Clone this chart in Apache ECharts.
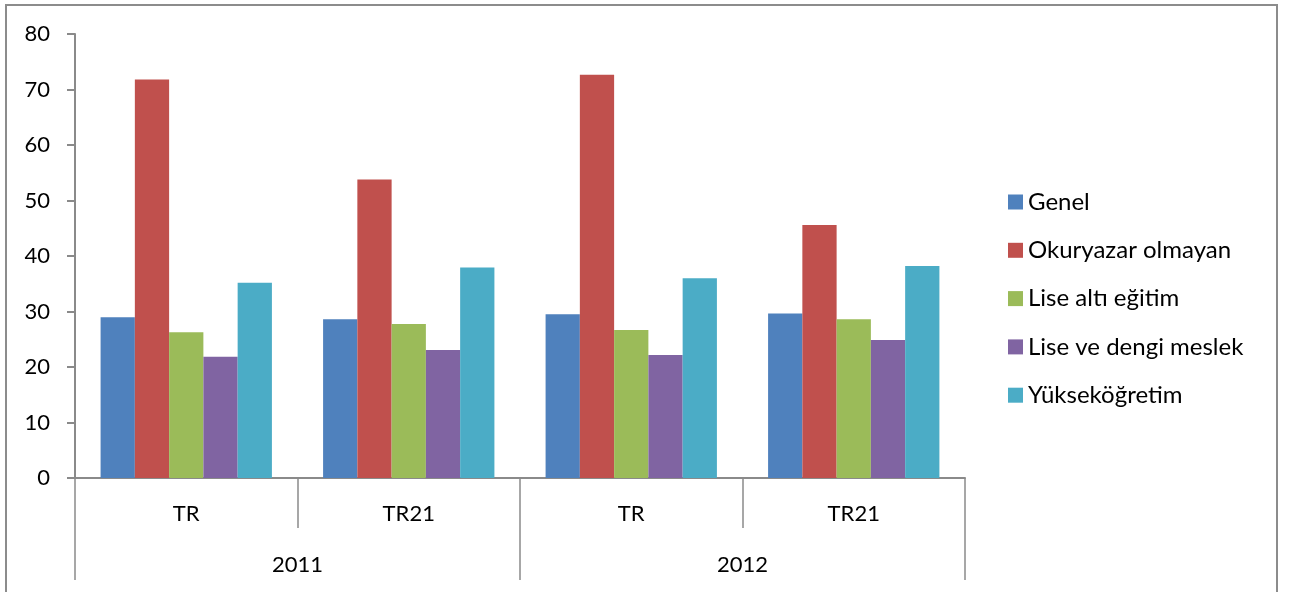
<!DOCTYPE html>
<html>
<head>
<meta charset="utf-8">
<script src="https://cdn.jsdelivr.net/npm/echarts@6/dist/echarts.min.js"></script>
<style>html,body{margin:0;padding:0;background:#fff;}#c{width:1293px;height:592px;}</style>
</head>
<body>
<div id="c"></div>
<script>
const regions = ['TR', 'TR21', 'TR', 'TR21'];
const years = ['2011', '2012'];
const yTicks = [0, 10, 20, 30, 40, 50, 60, 70, 80];
const seriesNames = ['Genel', 'Okuryazar olmayan', 'Lise altı eğitim', 'Lise ve dengi meslek', 'Yükseköğretim'];
const genel = [28.95, 28.6, 29.5, 29.65];
const okuryazarOlmayan = [71.8, 53.8, 72.65, 45.6];
const liseAlti = [26.25, 27.75, 26.65, 28.6];
const liseVeDengi = [21.85, 23.05, 22.15, 24.85];
const yuksekogretim = [35.2, 37.95, 36.0, 38.2];
const colors = ['#4F81BD', '#C0504D', '#9BBB59', '#8064A2', '#4BACC6'];

const values = [genel, okuryazarOlmayan, liseAlti, liseVeDengi, yuksekogretim];
const FONT = 'Lato';
const axisColor = '#8a8a8a';

const chart = echarts.init(document.getElementById('c'), null, {renderer: 'canvas'});
chart.setOption({
  animation: false,
  color: colors,
  textStyle: {fontFamily: FONT},
  grid: {left: 75, right: 328, top: 34, bottom: 114, containLabel: false},
  legend: {
    orient: 'vertical',
    left: 1008,
    top: 190,
    padding: 0,
    itemWidth: 15,
    itemHeight: 15,
    itemGap: 24.3,
    icon: 'rect',
    data: seriesNames,
    textStyle: {fontFamily: FONT, fontSize: 24, lineHeight: 24, color: '#000'}
  },
  xAxis: [
    {
      type: 'category',
      data: regions,
      position: 'bottom',
      axisLine: {show: true, lineStyle: {color: axisColor, width: 2}},
      axisTick: {show: true, length: 50, interval: 0, lineStyle: {color: axisColor, width: 1.5}},
      axisLabel: {margin: 25, fontFamily: FONT, fontSize: 22, color: '#000', interval: 0},
      splitLine: {show: false}
    },
    {
      type: 'category',
      data: years,
      position: 'bottom',
      axisLine: {show: false},
      axisTick: {show: true, length: 102, interval: 0, lineStyle: {color: axisColor, width: 1.5}},
      axisLabel: {margin: 76, fontFamily: FONT, fontSize: 22, color: '#000', interval: 0},
      splitLine: {show: false}
    }
  ],
  yAxis: {
    type: 'value',
    min: yTicks[0],
    max: yTicks[yTicks.length - 1],
    interval: 10,
    axisLine: {show: true, lineStyle: {color: axisColor, width: 2}},
    axisTick: {show: true, length: 8, lineStyle: {color: axisColor, width: 2}},
    axisLabel: {margin: 25, fontFamily: FONT, fontSize: 22, color: '#000'},
    splitLine: {show: false}
  },
  series: seriesNames.map((name, i) => ({
    name: name,
    type: 'bar',
    xAxisIndex: 0,
    data: values[i],
    barGap: '0%',
    barCategoryGap: '23%',
    itemStyle: {color: colors[i]}
  })),
  graphic: [{
    type: 'rect',
    shape: {x: 6, y: 5, width: 1271, height: 620},
    style: {fill: 'none', stroke: '#8c8c8c', lineWidth: 2},
    silent: true
  }]
});
</script>
</body>
</html>
